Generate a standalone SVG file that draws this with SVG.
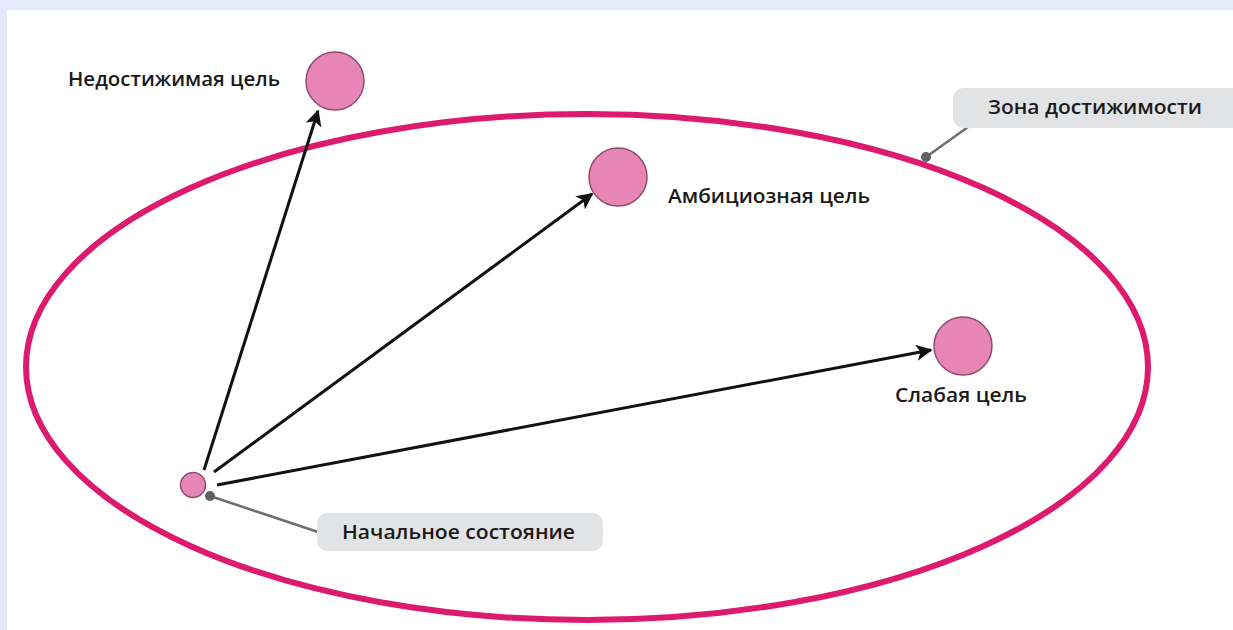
<svg xmlns="http://www.w3.org/2000/svg" width="1233" height="630" viewBox="0 0 1233 630">
<defs>
<style>
.goal{fill:#e685b6;stroke:#8c4d6d;stroke-width:1.5}
.arrow{stroke:#111;stroke-width:3;fill:none;marker-end:url(#ah)}
.lead{stroke:#6e6e6e;stroke-width:2.5;fill:none}
.dot{fill:#5f6163}
.box{fill:#e2e3e5}
.lbl{font-family:"Open Sans","Liberation Sans",sans-serif;font-weight:600;font-size:19px;fill:#1a1a1a}
</style>
<marker id="ah" viewBox="0 0 10 10" refX="9" refY="5" markerWidth="5.5" markerHeight="5.5" orient="auto" markerUnits="strokeWidth">
<path d="M0,0 L10,5 L0,10 L2.5,5 Z" fill="#111"/>
</marker>
</defs>
<rect x="0" y="0" width="1233" height="630" fill="#e5eafb"/>
<rect x="7" y="10" width="1226" height="620" fill="#ffffff"/>
<g id="zone">
<ellipse cx="587" cy="367" rx="561" ry="253" fill="none" stroke="#dc1a6e" stroke-width="6"/>
</g>
<g id="connectors">
<line class="arrow" x1="204" y1="470" x2="318" y2="111"/>
<line class="arrow" x1="214" y1="472" x2="592" y2="194"/>
<line class="arrow" x1="217" y1="485" x2="931" y2="350"/>
<line class="lead" x1="210" y1="496" x2="318" y2="532"/>
<circle class="dot" cx="210" cy="496" r="5"/>
<line class="lead" x1="968" y1="127" x2="926" y2="157"/>
<circle class="dot" cx="926" cy="157" r="5"/>
</g>
<g id="node-start">
<circle class="goal" cx="193" cy="485" r="12.5"/>
</g>
<g id="node-unreachable">
<circle class="goal" cx="335" cy="81" r="29"/>
<text class="lbl" x="68" y="86" textLength="212" lengthAdjust="spacingAndGlyphs">Недостижимая цель</text>
</g>
<g id="node-ambitious">
<circle class="goal" cx="618" cy="177" r="29"/>
<text class="lbl" x="668" y="203" textLength="202" lengthAdjust="spacingAndGlyphs">Амбициозная цель</text>
</g>
<g id="node-weak">
<circle class="goal" cx="963" cy="346" r="29"/>
<text class="lbl" x="895" y="402" textLength="132" lengthAdjust="spacingAndGlyphs">Слабая цель</text>
</g>
<g id="label-start">
<rect class="box" x="317" y="513" width="286" height="38" rx="10"/>
<text class="lbl" x="342" y="539" textLength="233" lengthAdjust="spacingAndGlyphs">Начальное состояние</text>
</g>
<g id="label-zone">
<rect class="box" x="953" y="88" width="290" height="40" rx="10"/>
<text class="lbl" x="988" y="114" textLength="214" lengthAdjust="spacingAndGlyphs">Зона достижимости</text>
</g>
</svg>
